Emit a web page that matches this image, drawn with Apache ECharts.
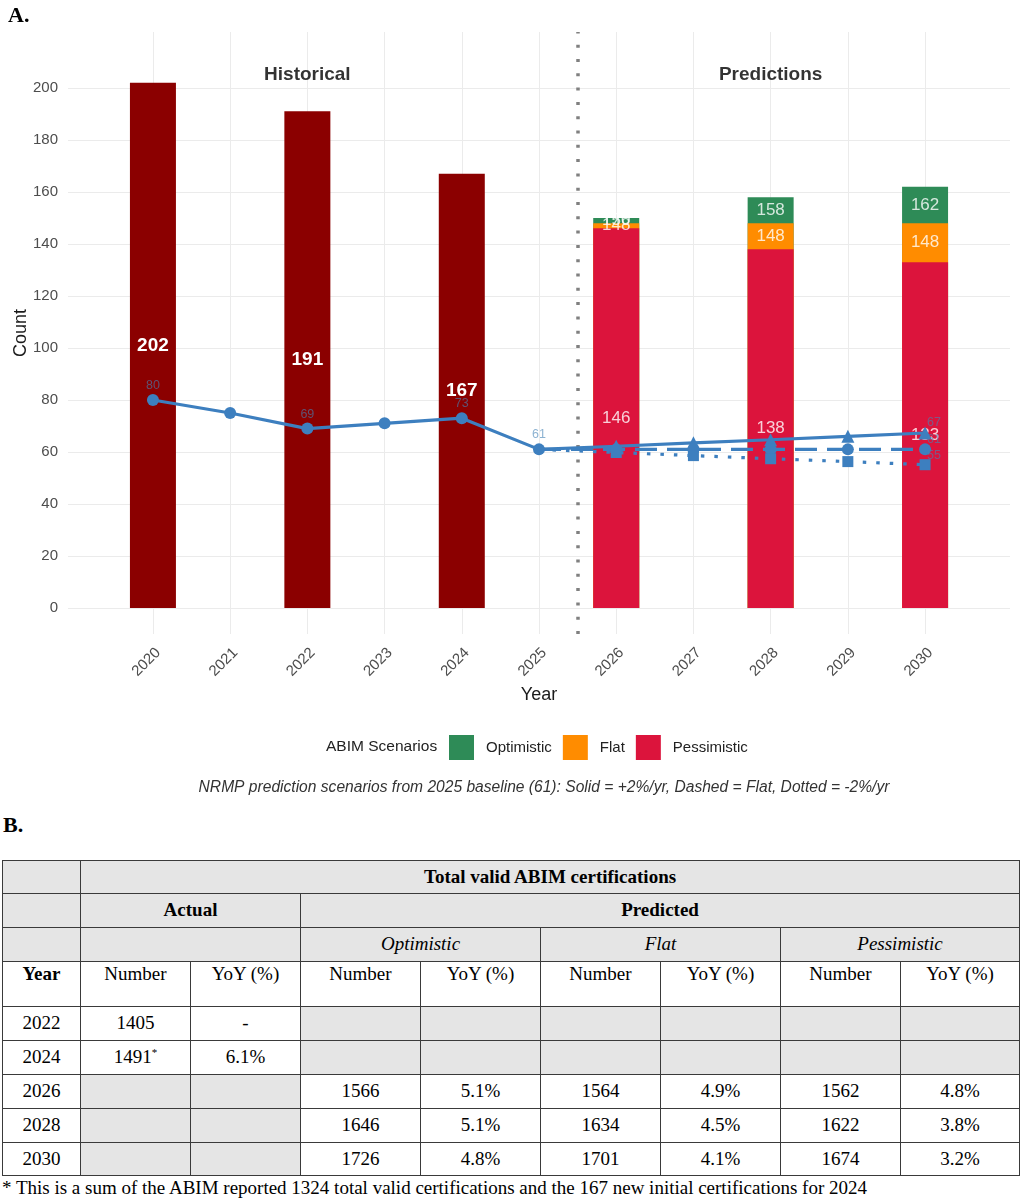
<!DOCTYPE html>
<html>
<head>
<meta charset="utf-8">
<script src="https://cdn.jsdelivr.net/npm/echarts@6/dist/echarts.min.js"></script>
<style>
  body { margin:0; background:#fff; width:1021px; height:1200px; position:relative; overflow:hidden; }
  #chart { position:absolute; left:0; top:0; width:1021px; height:810px; }
  #panelB { position:absolute; left:3px; top:812px; font-family:'Liberation Serif','Times New Roman',serif; font-weight:bold; font-size:22px; color:#000; }
  #tbl { position:absolute; left:2px; top:860px; border-collapse:collapse; table-layout:fixed; width:1017px;
         font-family:'Liberation Serif','Times New Roman',serif; font-size:19px; color:#000; }
  #tbl td { border:1.5px solid #3a3a3a; text-align:center; vertical-align:middle; padding:0; line-height:1.1; }
  #tbl td.g { background:#e5e5e5; }
  #tbl td.b { font-weight:bold; }
  #tbl td.i { font-style:italic; }
  #tbl tr.top td { vertical-align:top; padding-top:2px; }
  #foot { position:absolute; left:2px; top:1177px; font-family:'Liberation Serif','Times New Roman',serif; font-size:19px; color:#000; white-space:nowrap; }
</style>
</head>
<body>
<div id="chart"></div>
<div id="panelB">B.</div>
<table id="tbl"></table>
<div id="foot"></div>
<script>
// ---------------- Chart data ----------------
const years = [2020, 2021, 2022, 2023, 2024, 2025, 2026, 2027, 2028, 2029, 2030];
const histYears = [2020, 2022, 2024];
const histCounts = [202, 191, 167];
const predYears = [2026, 2028, 2030];
const pessimistic = [146, 138, 133];
const flat = [148, 148, 148];
const optimistic = [150, 158, 162];
const nrmpYears = [2020, 2021, 2022, 2023, 2024, 2025];
const nrmpCounts = [80, 75, 69, 71, 73, 61];
const nrmpLabelYears = [2020, 2022, 2024, 2025];
const nrmpPredYears = [2025, 2026, 2027, 2028, 2029, 2030];
const nrmpPlus2 = [61, 62.2, 63.5, 64.7, 66.0, 67.3];
const nrmpFlat = [61, 61, 61, 61, 61, 61];
const nrmpMinus2 = [61, 59.8, 58.6, 57.4, 56.3, 55.1];
const nrmpEndLabels = [67, 61, 55];
const yTicks = { min: 0, max: 200, step: 20 };
const sectionLabels = [[2022, 205, 'Historical'], [2028, 205, 'Predictions']];
const caption = 'NRMP prediction scenarios from 2025 baseline (61): Solid = +2%/yr, Dashed = Flat, Dotted = -2%/yr';

// ---------------- Table data ----------------
const actualYears = [2022, 2024];
const actualNumbers = ['1405', '1491<sup style="font-size:11px">*</sup>'];
const actualYoY = ['-', '6.1%'];
const tablePredYears = [2026, 2028, 2030];
const optNumbers = [1566, 1646, 1726];
const optYoY = ['5.1%', '5.1%', '4.8%'];
const flatNumbers = [1564, 1634, 1701];
const flatYoY = ['4.9%', '4.5%', '4.1%'];
const pessNumbers = [1562, 1622, 1674];
const pessYoY = ['4.8%', '3.8%', '3.2%'];
const footnote = '* This is a sum of the ABIM reported 1324 total valid certifications and the 167 new initial certifications for 2024';

// ---------------- Layout ----------------
const FONT = "'Liberation Sans', Arial, sans-serif";
const LINE = '#3d7fbf';
const LABEL_C = 'rgba(70,130,180,0.62)';
const PX = { left: 68, width: 942, top: 32, height: 602 };
const Y_MIN = -10, Y_MAX = 221.5;
const X_MIN = 2018.9, X_MAX = 2031.1;
const pxU = PX.height / (Y_MAX - Y_MIN);
const pxY = PX.width / (X_MAX - X_MIN);

const chart = echarts.init(document.getElementById('chart'));

function lineSeries(name, xs, ys, symbol, size, type, showFirst) {
  return {
    name, type: 'line', xAxisIndex: 0, yAxisIndex: 0, z: 5,
    symbol, symbolSize: size, showSymbol: true,
    lineStyle: { color: LINE, width: 3.2, type: type },
    itemStyle: { color: LINE },
    data: xs.map((x, i) => ({ value: [x, ys[i]], symbol: (i === 0 && !showFirst) ? 'none' : symbol })),
    label: { show: false },
    animation: false
  };
}

const nrmpHistSeries = lineSeries('NRMP', nrmpYears, nrmpCounts, 'circle', 12, 'solid', true);
nrmpHistSeries.data.forEach((d, i) => {
  if (nrmpLabelYears.includes(nrmpYears[i])) {
    d.label = { show: true, position: 'top', distance: 2, color: LABEL_C, fontSize: 12.5, fontFamily: FONT, formatter: String(nrmpCounts[i]) };
  }
});
const plusSeries = lineSeries('NRMP +2%', nrmpPredYears, nrmpPlus2, 'triangle', 13, 'solid', false);
const flatLine = lineSeries('NRMP flat', nrmpPredYears, nrmpFlat, 'circle', 12, [22, 10], false);
const minusSeries = lineSeries('NRMP -2%', nrmpPredYears, nrmpMinus2, 'rect', 11, [3.5, 10], false);
[plusSeries, flatLine, minusSeries].forEach((s, k) => {
  const last = s.data.length - 1;
  s.data[last].label = { show: true, position: 'top', distance: 1, offset: [9, 4], color: LABEL_C, fontSize: 12.5, fontFamily: FONT,
    formatter: String(nrmpEndLabels[k]) };
});

// Segment label positions (centre of each visible segment of the scenario bars)
const segLabels = [];
predYears.forEach((y, i) => {
  segLabels.push({ value: [y, pessimistic[i] / 2], name: String(pessimistic[i]) });
  segLabels.push({ value: [y, (pessimistic[i] + flat[i]) / 2], name: String(flat[i]) });
  segLabels.push({ value: [y, (flat[i] + optimistic[i]) / 2], name: String(optimistic[i]) });
});

const barBase = { type: 'bar', xAxisIndex: 0, yAxisIndex: 0, barWidth: 46, barGap: '-100%', z: 2 };

const option = {
  animation: false,
  backgroundColor: '#fff',
  textStyle: { fontFamily: FONT },
  title: [
    { text: 'A.', left: 3, top: 0, textStyle: { fontFamily: "'Liberation Serif','Times New Roman',serif", fontWeight: 'bold', fontSize: 22, color: '#000' } },
    { text: 'ABIM Scenarios', left: 321, top: 734, textStyle: { fontFamily: FONT, fontWeight: 'normal', fontSize: 15.5, color: '#222' } },
    { text: caption, left: 539, textAlign: 'center', top: 775, textStyle: { fontFamily: FONT, fontWeight: 'normal', fontStyle: 'italic', fontSize: 15.6, color: '#333' } }
  ],
  legend: {
    data: ['Optimistic', 'Flat', 'Pessimistic'],
    left: 449, top: 735, orient: 'horizontal', padding: 0,
    icon: 'rect', itemWidth: 25, itemHeight: 25, itemGap: 11,
    textStyle: { fontFamily: FONT, fontSize: 15, color: '#222', padding: [0, 0, 0, 7] },
    selectedMode: false
  },
  grid: [
    { left: PX.left, width: PX.width, top: PX.top, height: PX.height },
    { left: PX.left, width: PX.width, top: PX.top + (Y_MAX - yTicks.max) * pxU, height: (yTicks.max - yTicks.min) * pxU },
    { left: PX.left + (years[0] - X_MIN) * pxY, width: (years[years.length - 1] - years[0]) * pxY, top: PX.top, height: PX.height }
  ],
  xAxis: [
    { type: 'value', gridIndex: 0, min: X_MIN, max: X_MAX, show: false },
    { type: 'value', gridIndex: 1, min: X_MIN, max: X_MAX, show: false },
    { type: 'category', gridIndex: 2, data: years.map(String), boundaryGap: false,
      axisLine: { show: false }, axisTick: { show: false },
      splitLine: { show: true, lineStyle: { color: '#ebebeb', width: 1 } },
      axisLabel: { rotate: 45, margin: 11, verticalAlign: 'top', fontSize: 15, color: '#4d4d4d', fontFamily: FONT },
      name: 'Year', nameLocation: 'middle', nameGap: 51,
      nameTextStyle: { fontSize: 18, color: '#1a1a1a', fontFamily: FONT } }
  ],
  yAxis: [
    { type: 'value', gridIndex: 0, min: Y_MIN, max: Y_MAX,
      axisLine: { show: false }, axisTick: { show: false }, axisLabel: { show: false }, splitLine: { show: false },
      name: 'Count', nameLocation: 'middle', nameGap: 38,
      nameTextStyle: { fontSize: 18, color: '#1a1a1a', fontFamily: FONT } },
    { type: 'value', gridIndex: 1, min: yTicks.min, max: yTicks.max, interval: yTicks.step,
      axisLine: { show: false }, axisTick: { show: false },
      axisLabel: { margin: 10, fontSize: 15, color: '#4d4d4d', fontFamily: FONT },
      splitLine: { show: true, lineStyle: { color: '#ebebeb', width: 1 } } },
    { type: 'value', gridIndex: 2, min: Y_MIN, max: Y_MAX, show: false }
  ],
  series: [
    Object.assign({}, barBase, { name: 'Historical',
      itemStyle: { color: '#8b0000' },
      data: histYears.map((y, i) => [y, histCounts[i]]),
      label: { show: true, position: 'inside', color: '#fff', fontWeight: 'bold', fontSize: 19, fontFamily: FONT, textBorderWidth: 0 },
      markLine: { silent: true, symbol: ['none', 'none'], animation: false, label: { show: false },
        lineStyle: { color: '#808080', width: 3.5, type: [3, 11.3] },
        data: [{ xAxis: 2025.5 }] } }),
    Object.assign({}, barBase, { name: 'Optimistic', itemStyle: { color: '#2e8b57' },
      data: predYears.map((y, i) => [y, optimistic[i]]) }),
    Object.assign({}, barBase, { name: 'Flat', itemStyle: { color: '#ff8c00' },
      data: predYears.map((y, i) => [y, flat[i]]) }),
    Object.assign({}, barBase, { name: 'Pessimistic', itemStyle: { color: '#dc143c' },
      data: predYears.map((y, i) => [y, pessimistic[i]]) }),
    { name: 'segLabels', type: 'scatter', xAxisIndex: 0, yAxisIndex: 0, symbolSize: 0, silent: true, z: 3,
      itemStyle: { color: 'rgba(0,0,0,0)' },
      data: segLabels,
      label: { show: true, position: 'inside', formatter: p => p.name, fontSize: 17, color: '#fff', fontFamily: FONT, textBorderWidth: 0 } },
    nrmpHistSeries, plusSeries, flatLine, minusSeries,
    { name: 'sections', type: 'scatter', xAxisIndex: 0, yAxisIndex: 0, symbolSize: 0, silent: true,
      itemStyle: { color: 'rgba(0,0,0,0)' },
      data: sectionLabels.map(d => ({ value: [d[0], d[1]], name: d[2] })),
      label: { show: true, position: 'inside', formatter: p => p.name, fontWeight: 'bold', fontSize: 19, color: '#000', fontFamily: FONT, textBorderWidth: 0 } }
  ]
};
chart.setOption(option);

// ---------------- Table ----------------
const colW = [78, 110, 110, 120, 120, 120, 120, 120, 119];
const rowH = [33, 34, 34, 45, 34, 34, 34, 34, 33];
let html = '<colgroup>' + colW.map(w => `<col style="width:${w}px">`).join('') + '</colgroup>';
html += `<tr style="height:${rowH[0]}px"><td class="g"></td><td class="g b" colspan="8">Total valid ABIM certifications</td></tr>`;
html += `<tr style="height:${rowH[1]}px"><td class="g"></td><td class="g b" colspan="2">Actual</td><td class="g b" colspan="6">Predicted</td></tr>`;
html += `<tr style="height:${rowH[2]}px"><td class="g"></td><td class="g" colspan="2"></td><td class="g i" colspan="2">Optimistic</td><td class="g i" colspan="2">Flat</td><td class="g i" colspan="2">Pessimistic</td></tr>`;
html += `<tr class="top" style="height:${rowH[3]}px"><td class="b">Year</td>` + ['Number','YoY (%)','Number','YoY (%)','Number','YoY (%)','Number','YoY (%)'].map(t => `<td>${t}</td>`).join('') + '</tr>';
actualYears.forEach((y, i) => {
  html += `<tr style="height:${rowH[4 + i]}px"><td>${y}</td><td>${actualNumbers[i]}</td><td>${actualYoY[i]}</td>` + '<td class="g"></td>'.repeat(6) + '</tr>';
});
tablePredYears.forEach((y, i) => {
  html += `<tr style="height:${rowH[6 + i]}px"><td>${y}</td><td class="g"></td><td class="g"></td>` +
    `<td>${optNumbers[i]}</td><td>${optYoY[i]}</td><td>${flatNumbers[i]}</td><td>${flatYoY[i]}</td><td>${pessNumbers[i]}</td><td>${pessYoY[i]}</td></tr>`;
});
document.getElementById('tbl').innerHTML = html;
document.getElementById('foot').textContent = footnote;
</script>
</body>
</html>
